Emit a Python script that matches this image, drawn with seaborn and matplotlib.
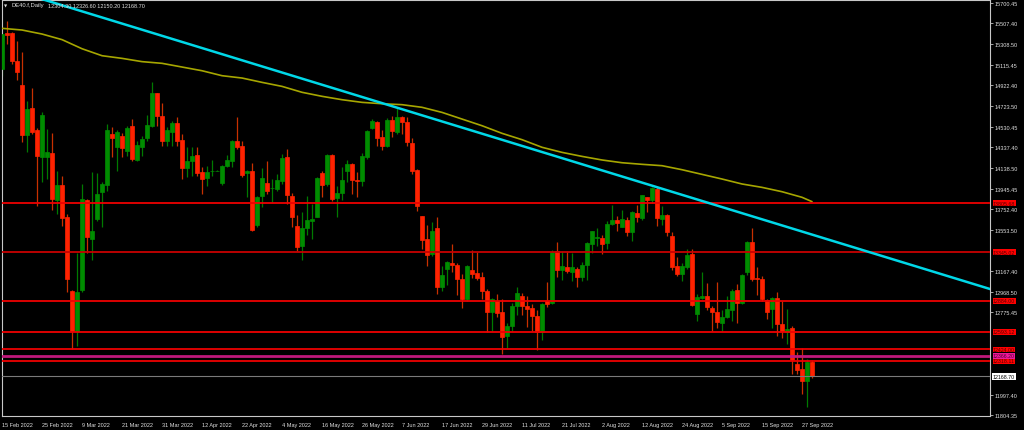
import matplotlib
matplotlib.use("Agg")
import matplotlib.pyplot as plt
import matplotlib.transforms as mtransforms
import numpy as np
import pandas as pd
import seaborn as sns

# DE40 daily candles, 15 Feb 2022 onwards
opens = [15076, 15417, 15417, 15149, 14928, 14455, 14707, 14503, 14247, 14241,
         14282, 13841, 13979, 13674, 12980, 12602, 12987, 13838, 13469, 13658,
         13916, 13982, 14462, 14342, 14446, 14298, 14534, 14219, 14336, 14421,
         14540, 14849, 14629, 14392, 14477, 14566, 14405, 14140, 14210, 14263,
         14099, 14042, 14109, 14112, 13998, 14156, 14203, 14392, 14345, 14093,
         14109, 13601, 13872, 13995, 13947, 13941, 14014, 14241, 13878, 13588,
         13399, 13570, 13642, 13680, 14093, 13989, 14263, 13853, 13900, 14115,
         14178, 14030, 14020, 14241, 14518, 14572, 14430, 14351, 14597, 14477,
         14625, 14572, 14376, 14124, 13683, 13469, 13327, 13573, 13012, 13185,
         13239, 13226, 13090, 12901, 13179, 13147, 13106, 12980, 12781, 12886,
         12775, 12555, 12649, 12832, 12926, 12832, 12813, 12744, 12592, 12886,
         12863, 13352, 13179, 13201, 13154, 13185, 13113, 13226, 13421, 13481,
         13478, 13431, 13611, 13648, 13585, 13651, 13532, 13715, 13667, 13863,
         13838, 13941, 13658, 13696, 13494, 13210, 13138, 13201, 13327, 12759,
         12911, 12926, 12813, 12775, 12671, 12734, 12797, 12987, 12864, 13154,
         13437, 13100, 13090, 12892, 12807, 12911, 12665, 12586, 12627, 12287,
         12240, 12129, 12304.3]
highs = [15430, 15533, 15423, 15344, 15234, 14777, 14893, 14515, 14667, 14509,
         14468, 14108, 14068, 13705, 12990, 13333, 13989, 13847, 14099, 14090,
         14004, 14553, 14531, 14503, 14468, 14534, 14603, 14399, 14446, 14644,
         14950, 14852, 14752, 14525, 14588, 14619, 14462, 14336, 14336, 14336,
         14146, 14162, 14216, 14118, 14172, 14263, 14405, 14619, 14392, 14121,
         14184, 13878, 14140, 14203, 14036, 14083, 14272, 14320, 13904, 13696,
         13721, 13878, 13800, 14058, 14115, 14272, 14272, 13973, 14146, 14216,
         14184, 14099, 14279, 14499, 14603, 14581, 14499, 14610, 14635, 14704,
         14635, 14625, 14424, 14130, 13689, 13604, 13626, 13674, 13217, 13264,
         13421, 13239, 13138, 13223, 13365, 13343, 13154, 12996, 12907, 12949,
         12901, 12674, 12860, 13012, 12955, 12932, 12854, 12797, 12860, 13059,
         13365, 13443, 13352, 13358, 13333, 13201, 13248, 13443, 13548, 13570,
         13506, 13642, 13790, 13689, 13743, 13680, 13730, 13793, 13888, 13869,
         13957, 13957, 13784, 13705, 13532, 13302, 13239, 13374, 13374, 12949,
         13160, 13050, 12832, 13059, 12797, 12933, 12996, 13043, 13138, 13447,
         13573, 13201, 13122, 12901, 12923, 12964, 12886, 12807, 12649, 12397,
         12438, 12334, 12326.6]
lows = [15007, 15313, 15124, 14972, 14383, 14295, 14462, 13784, 14011, 14036,
        13746, 13705, 13595, 12964, 12429, 12460, 12964, 13333, 13273, 13642,
        13579, 13926, 14241, 14115, 14241, 14250, 14209, 14209, 14257, 14399,
        14525, 14540, 14345, 14345, 14345, 14351, 14036, 14052, 14068, 14068,
        13894, 13973, 14068, 14109, 13982, 14146, 14146, 14320, 14058, 13863,
        13548, 13579, 13774, 13894, 13815, 13926, 13989, 13800, 13585, 13358,
        13273, 13507, 13469, 13674, 13863, 13973, 13825, 13674, 13838, 14005,
        13894, 13863, 13973, 14225, 14509, 14351, 14310, 14336, 14436, 14462,
        14462, 14345, 14083, 13737, 13374, 13217, 13305, 12949, 12980, 13037,
        13154, 12942, 12813, 12886, 13097, 13084, 12901, 12592, 12602, 12728,
        12381, 12438, 12602, 12750, 12753, 12633, 12602, 12419, 12517, 12823,
        12854, 13113, 13084, 13144, 13075, 13018, 13075, 13084, 13333, 13405,
        13327, 13374, 13601, 13548, 13579, 13500, 13447, 13626, 13648, 13727,
        13809, 13595, 13604, 13500, 13179, 13116, 13075, 13185, 12838, 12697,
        12901, 12797, 12602, 12627, 12602, 12722, 12697, 12674, 12854, 13132,
        13068, 12942, 12886, 12712, 12624, 12555, 12533, 12476, 12192, 12192,
        12003, 11877, 12150.2]
closes = [15407, 15401, 15155, 15045, 14455, 14698, 14477, 14257, 14641, 14288,
          13847, 13982, 13670, 13090, 12602, 12964, 13847, 13485, 13548, 13894,
          13988, 14499, 14424, 14484, 14329, 14518, 14225, 14361, 14411, 14550,
          14849, 14629, 14392, 14499, 14566, 14399, 14143, 14210, 14257, 14090,
          14036, 14099, 14115, 14115, 14156, 14216, 14392, 14342, 14077, 14109,
          13557, 13863, 14046, 13919, 13950, 14030, 14232, 13888, 13674, 13390,
          13570, 13648, 13658, 14046, 13982, 14263, 13847, 13900, 14030, 14178,
          14030, 14018, 14250, 14493, 14581, 14421, 14351, 14597, 14487, 14619,
          14572, 14383, 14109, 13778, 13462, 13321, 13548, 13012, 13128, 13248,
          13226, 13090, 12901, 13217, 13138, 13100, 12980, 12781, 12901, 12769,
          12539, 12649, 12838, 12955, 12832, 12807, 12744, 12586, 12854, 12854,
          13343, 13179, 13210, 13163, 13201, 13113, 13226, 13431, 13541, 13485,
          13421, 13611, 13648, 13620, 13658, 13532, 13721, 13680, 13885, 13838,
          13948, 13667, 13699, 13532, 13207, 13138, 13210, 13321, 12848, 12923,
          12926, 12823, 12775, 12687, 12734, 12807, 12980, 12864, 13128, 13437,
          13090, 13090, 12901, 12781, 12911, 12665, 12596, 12618, 12328, 12230,
          12129, 12303, 12168.7]

# moving average, sampled every 4 bars
ma_bars = list(range(0, 161, 4)) + [162]
ma_values = [15461, 15445, 15407, 15354, 15268, 15202, 15177, 15146, 15130, 15095, 15060,
             15013, 14991, 14950, 14912, 14856, 14818, 14786, 14761, 14748, 14739,
             14714, 14666, 14603, 14540, 14468, 14408, 14336, 14288, 14250, 14216,
             14190, 14175, 14162, 14124, 14080, 14036, 13989, 13957, 13916, 13863, 13822]

# cyan trendline anchors (bar index, price)
trend_bars = [0, 198]
trend_prices = [15853, 12990]

level_prices = [13805.68, 13345.02, 12884.00, 12593.12, 12424.00, 12318.11]
pivot_price = 12366.20
last_price = 12168.70

# price scale labels (the ones hidden behind level tags are left out)
ytick_values = [15700.45, 15507.40, 15308.50, 15115.45, 14922.40, 14723.50, 14530.45,
                14337.40, 14138.50, 13945.45, 13752.40, 13553.50, 13167.40,
                12968.50, 12775.45, 11997.40, 11804.35]
xtick_labels = ["15 Feb 2022", "25 Feb 2022", "9 Mar 2022", "21 Mar 2022", "31 Mar 2022",
                "12 Apr 2022", "22 Apr 2022", "4 May 2022", "16 May 2022", "26 May 2022",
                "7 Jun 2022", "17 Jun 2022", "29 Jun 2022", "11 Jul 2022", "21 Jul 2022",
                "2 Aug 2022", "12 Aug 2022", "24 Aug 2022", "5 Sep 2022", "15 Sep 2022",
                "27 Sep 2022"]

df = pd.DataFrame({"open": opens, "high": highs, "low": lows, "close": closes})
df["date"] = pd.bdate_range("2022-02-15", periods=len(df))
df["bar"] = np.arange(len(df))
df["bull"] = df["close"] >= df["open"]

sns.set_style("dark", {"axes.facecolor": "black", "figure.facecolor": "black"})
plt.rcParams["font.family"] = ["Liberation Sans", "DejaVu Sans"]

fig = plt.figure(figsize=(10.24, 4.31), dpi=100, facecolor="black")
ax = fig.add_axes([0.0015, 0.0325, 0.9653, 0.9652])
ax.set_facecolor("black")

# candles
wick_col = np.where(df["bull"], "#007a00", "#c83000")
body_col = np.where(df["bull"], "#008c00", "#ff2200")
ax.vlines(df["bar"], df["low"], df["high"], colors=wick_col, lw=0.9, zorder=2)
body_low = df[["open", "close"]].min(axis=1)
body_h = (df["close"] - df["open"]).abs()
ax.bar(df["bar"], body_h, bottom=body_low, width=0.62, color=body_col,
       edgecolor=body_col, linewidth=0.5, zorder=3)

# moving average
sns.lineplot(x=ma_bars, y=ma_values, ax=ax, color="#a6a600", lw=1.2, zorder=4)

# horizontal levels
trans = mtransforms.blended_transform_factory(ax.transAxes, ax.transData)
tag = dict(transform=trans, fontsize=3.8, va="center", ha="left", clip_on=False)
for p in level_prices:
    col = "#c80000" if p == 13345.02 else "#ee0000"
    ax.axhline(p, color=col, lw=1.3, zorder=5)
    ax.text(1.003, p, f"{p:.2f}", color="#500000", zorder=10,
            bbox=dict(facecolor="#ff0000", edgecolor="none", pad=0.3), **tag)
ax.axhline(pivot_price, color="#c0187c", lw=2, zorder=5)
ax.text(1.003, pivot_price, f"{pivot_price:.2f}", color="#500030", zorder=11,
        bbox=dict(facecolor="#f0189a", edgecolor="none", pad=0.3), **tag)
ax.axhline(last_price, color="#7a7a7a", lw=0.8, zorder=5)
ax.text(1.003, last_price, f"{last_price:.2f}", color="black", zorder=11,
        bbox=dict(facecolor="white", edgecolor="none", pad=0.5), **tag)

# trendline
ax.plot(trend_bars, trend_prices, color="#00d8e8", lw=1.8, zorder=6)

ax.set_xlim(-0.1, 197.6)
ax.set_ylim(11795, 15729)

xpos = [df.index[df["date"] == pd.Timestamp(s)][0] for s in xtick_labels]
ax.set_xticks(xpos)
ax.set_xticklabels(xtick_labels, ha="left")
ax.yaxis.tick_right()
ax.set_yticks(ytick_values)
ax.set_yticklabels([f"{v:.2f}" for v in ytick_values])
ax.tick_params(axis="both", colors="#c0c0c0", labelcolor="#e0e0e0", labelsize=4,
               length=2, width=0.6, direction="out", pad=1.5)
ax.tick_params(axis="x", pad=2)
ax.grid(False)
for s in ax.spines.values():
    s.set_color("#c8c8c8")
    s.set_linewidth(0.8)
    s.set_visible(True)

fig.text(4 / 1024, 1 - 6 / 431, "\u25bc", color="#e0e0e0", fontsize=3,
         family="DejaVu Sans", va="center", ha="left")
fig.text(11 / 1024, 1 - 6 / 431, "DE40.f,Daily", color="#e0e0e0", fontsize=4.2,
         va="center", ha="left")
fig.text(48 / 1024, 1 - 6 / 431, "12304.30 12326.60 12150.20 12168.70", color="#e0e0e0",
         fontsize=4, va="center", ha="left")

fig.savefig("out.png", dpi=100, facecolor="black")
